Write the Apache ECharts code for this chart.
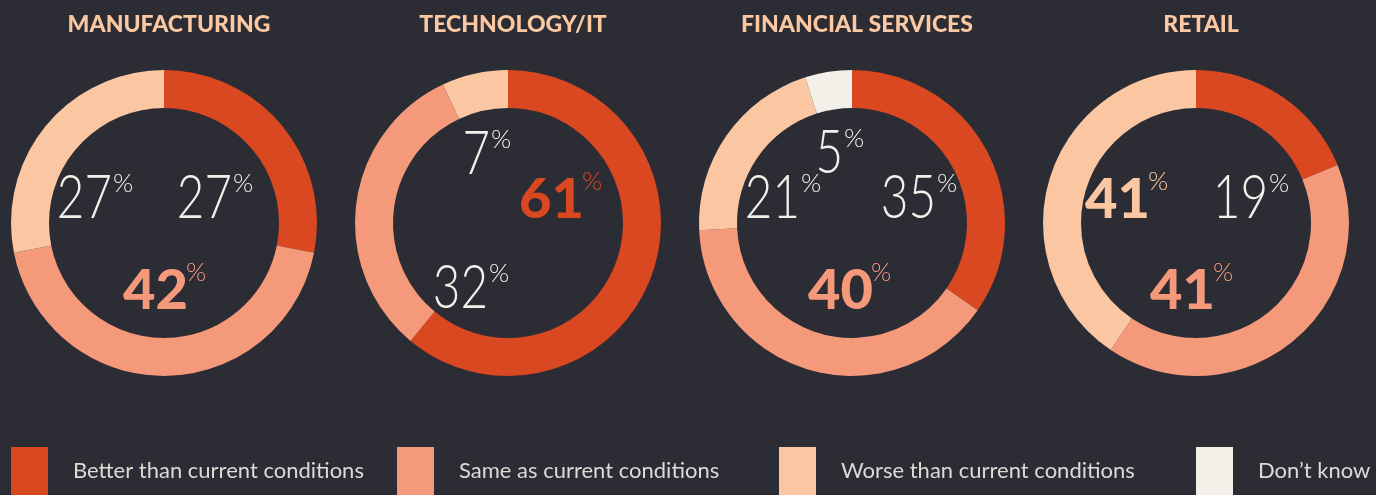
<!DOCTYPE html>
<html>
<head>
<meta charset="utf-8">
<script src="https://cdn.jsdelivr.net/npm/echarts@6/dist/echarts.min.js"></script>
<style>
  html, body { margin: 0; padding: 0; background: #2c2c35; }
  #main { width: 1376px; height: 495px; }
</style>
</head>
<body>
<div id="main"></div>
<script>
// data
const sectors = ['MANUFACTURING', 'TECHNOLOGY/IT', 'FINANCIAL SERVICES', 'RETAIL']
const answers = ['Better than current conditions', 'Same as current conditions', 'Worse than current conditions', 'Don\u2019t know']
const better = [27, 61, 35, 19]
const same = [42, 32, 40, 41]
const worse = [27, 7, 21, 41]
const dontKnow = [0, 0, 5, 0]

// layout
const colors = ['#d94820', '#f5997b', '#fac7a2', '#f3f0ea']
const centersX = [164, 508, 852, 1196]
const centerY = 223
// label anchor per sector per answer: [dx of number right edge, baseline y]
const labelPos = [
  [[68, 217], [24, 308], [-52, 217], null],
  [[76, 217], [-20, 307], [-18, 173], null],
  [[84, 217], [21, 308], [-52, 217], [-9, 172]],
  [[72, 217], [19, 308], [-46, 217], null]
]
const legendLeft = [11, 397, 779, 1196]

const chart = echarts.init(document.getElementById('main'))

const allValues = [better, same, worse, dontKnow]
const series = []
const titles = []
const graphics = []

sectors.forEach((name, i) => {
  const vals = allValues.map(arr => arr[i])
  const maxVal = Math.max(...vals)
  titles.push({
    text: name,
    left: centersX[i],
    top: 8,
    textAlign: 'center',
    textStyle: { color: '#fcc8a2', fontFamily: 'Lato', fontWeight: 900, fontSize: 23 }
  })
  series.push({
    type: 'pie',
    name: name,
    center: [centersX[i], centerY],
    radius: [115, 153],
    startAngle: 90,
    silent: true,
    label: { show: false },
    labelLine: { show: false },
    data: vals.map((v, k) => ({ name: answers[k], value: v, itemStyle: { color: colors[k] } }))
      .filter(d => d.value > 0)
  })
  vals.forEach((v, k) => {
    if (!v || !labelPos[i][k]) return
    const bold = v === maxVal
    const fs = bold ? 56 : 61
    const x = centersX[i] + labelPos[i][k][0]
    const base = labelPos[i][k][1]
    const col = bold ? colors[k] : '#f3f0ea'
    graphics.push({
      type: 'text',
      x: x,
      y: base - Math.round(fs * 0.8),
      scaleX: bold ? 1 : 0.78,
      style: {
        text: String(v),
        fill: col,
        font: (bold ? '900 ' : '300 ') + fs + 'px Lato',
        align: 'right',
        verticalAlign: 'top'
      }
    })
    graphics.push({
      type: 'text',
      x: bold ? x - 2 : x + 1,
      y: bold ? base - 48 : base - 46,
      style: {
        text: '%',
        fill: col,
        font: '300 26px Lato',
        align: 'left',
        verticalAlign: 'top'
      }
    })
  })
})

const legends = answers.map((a, k) => ({
  data: [a],
  left: legendLeft[k] - 5,
  top: 442,
  icon: 'rect',
  itemWidth: 37,
  itemHeight: 48,
  selectedMode: false,
  textStyle: { color: '#dedad5', fontFamily: 'Lato', fontSize: 22, padding: [0, 0, 0, 20] }
}))

chart.setOption({
  backgroundColor: '#2c2c35',
  animation: false,
  title: titles,
  legend: legends,
  series: series,
  graphic: graphics
})
</script>
</body>
</html>
